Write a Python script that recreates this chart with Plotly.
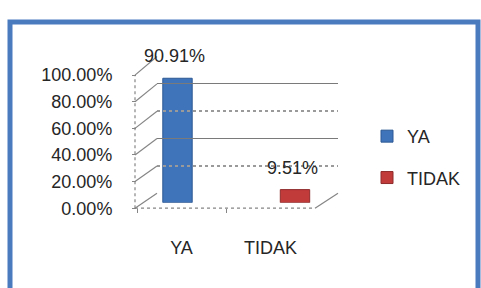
import plotly.graph_objects as go

# ---- data ----
categories = ["YA", "TIDAK"]
values = [0.9091, 0.0951]
y_ticks = [0, 0.2, 0.4, 0.6, 0.8, 1.0]
solid_grid = [0.4, 0.8, 1.0]
dotted_grid = [0, 0.2, 0.6]

# ---- styles ----
bar_colors = ["#3f74bb", "#c23b3b"]
bar_edges = ["#2c5893", "#8f2b2b"]
grid_col = "#858585"
txt_col = "#262626"
FONT = "Liberation Sans"
FS = 18

W, H = 481, 288


def fx(px):
    return px / W


def fy(py):
    return 1 - py / H


dom_bar_x = [fx(118.75), fx(353.75)]
dom_bar_y = [fy(207), fy(60)]
dom_lab_x = [fx(137), fx(315)]
dom_lab_y = [fy(213), fy(70)]
dom_wall_x = [fx(157), fx(338)]
dom_wall_y = [fy(197), fy(50)]

fig = go.Figure()
for cat, v, c, e in zip(categories, values, bar_colors, bar_edges):
    fig.add_trace(go.Bar(
        x=[cat], y=[v], name=cat, width=0.25,
        marker=dict(color=c, line=dict(color=e, width=1)),
        xaxis="x", yaxis="y", legendgroup=cat, hoverinfo="skip",
    ))

# helper traces so the label axes and back-wall grid subplots are drawn
fig.add_trace(go.Scatter(x=categories, y=[None, None], xaxis="x2", yaxis="y2",
                         mode="markers", showlegend=False, hoverinfo="skip"))
fig.add_trace(go.Scatter(x=[None], y=[None], xaxis="x3", yaxis="y3",
                         mode="markers", showlegend=False, hoverinfo="skip"))
fig.add_trace(go.Scatter(x=[None], y=[None], xaxis="x4", yaxis="y4",
                         mode="markers", showlegend=False, hoverinfo="skip"))

# data labels
for cat, v in zip(categories, values):
    fig.add_annotation(x=cat, y=v, xref="x", yref="y", text=f"{v:.2%}",
                       showarrow=False, yanchor="middle", yshift=22, xshift=-3,
                       font=dict(size=FS, color=txt_col, family=FONT))

shapes = []
# outer blue frame
shapes.append(dict(type="rect", xref="paper", yref="paper",
                   x0=fx(10), x1=fx(478), y0=fy(13), y1=fy(305),
                   line=dict(color="#4a7bbf", width=5)))


def lab_y(v):
    return dom_lab_y[0] + v * (dom_lab_y[1] - dom_lab_y[0])


def wall_y(v):
    return dom_wall_y[0] + v * (dom_wall_y[1] - dom_wall_y[0])


# side-wall connectors from front axis to back wall
for v in y_ticks:
    shapes.append(dict(type="line", xref="paper", yref="paper",
                       x0=fx(135), y0=lab_y(v), x1=dom_wall_x[0], y1=wall_y(v),
                       line=dict(color=grid_col, width=1.2)))
# dotted vertical value axis
shapes.append(dict(type="line", xref="paper", yref="paper",
                   x0=fx(135), x1=fx(135), y0=lab_y(0), y1=lab_y(1),
                   line=dict(color=grid_col, width=1.2, dash="dot")))
# dotted floor front edge
shapes.append(dict(type="line", xref="paper", yref="paper",
                   x0=fx(135), x1=dom_lab_x[1], y0=lab_y(0), y1=lab_y(0),
                   line=dict(color=grid_col, width=1.2, dash="dot")))
# floor right edge
shapes.append(dict(type="line", xref="paper", yref="paper",
                   x0=dom_lab_x[1], x1=dom_wall_x[1], y0=lab_y(0), y1=wall_y(0),
                   line=dict(color=grid_col, width=1.2)))

wall_x_axis = dict(range=[0, 1], showgrid=False, zeroline=False, showline=False,
                   showticklabels=False, ticks="")

fig.update_layout(
    width=W, height=H,
    margin=dict(l=0, r=0, t=0, b=0),
    paper_bgcolor="white", plot_bgcolor="rgba(0,0,0,0)",
    barmode="overlay",
    font=dict(family=FONT, size=FS, color=txt_col),
    shapes=shapes,
    xaxis=dict(domain=dom_bar_x, range=[-0.5, 1.5], type="category",
               categoryarray=categories, visible=False, anchor="y"),
    yaxis=dict(domain=dom_bar_y, range=[0, 1], visible=False, anchor="x"),
    xaxis2=dict(domain=dom_lab_x, range=[-0.5, 1.5], type="category",
                categoryarray=categories, anchor="y2", showgrid=False,
                zeroline=False, showline=False, ticks="outside", tickson="boundaries",
                ticklen=4, tickcolor=grid_col, ticklabelstandoff=27,
                tickfont=dict(size=FS, color=txt_col, family=FONT)),
    yaxis2=dict(domain=dom_lab_y, range=[0, 1], anchor="x2", tickvals=y_ticks,
                tickformat=".2%", showgrid=False, zeroline=False, showline=False,
                ticks="outside", ticklen=4, tickcolor=grid_col, ticklabelstandoff=16,
                tickfont=dict(size=FS, color=txt_col, family=FONT)),
    xaxis3=dict(domain=dom_wall_x, anchor="y3", **wall_x_axis),
    yaxis3=dict(domain=dom_wall_y, range=[0, 1], anchor="x3", tickvals=solid_grid,
                showgrid=True, gridcolor="#7a7a7a", gridwidth=1.2, zeroline=False,
                showline=False, showticklabels=False, ticks=""),
    xaxis4=dict(domain=dom_wall_x, anchor="y4", **wall_x_axis),
    yaxis4=dict(domain=dom_wall_y, range=[0, 1], anchor="x4", tickvals=dotted_grid,
                showgrid=True, gridcolor="#9a9a9a", gridwidth=1.5, griddash="dot",
                zeroline=False, showline=False, showticklabels=False, ticks=""),
    showlegend=True,
    legend=dict(x=fx(367), y=fy(116), xanchor="left", yanchor="top",
                bgcolor="rgba(0,0,0,0)", tracegroupgap=15,
                font=dict(size=FS, color=txt_col, family=FONT)),
)

fig.write_html("out.html", config={"displayModeBar": False},
               post_script="document.body.style.margin='0';document.body.style.overflow='hidden';")
